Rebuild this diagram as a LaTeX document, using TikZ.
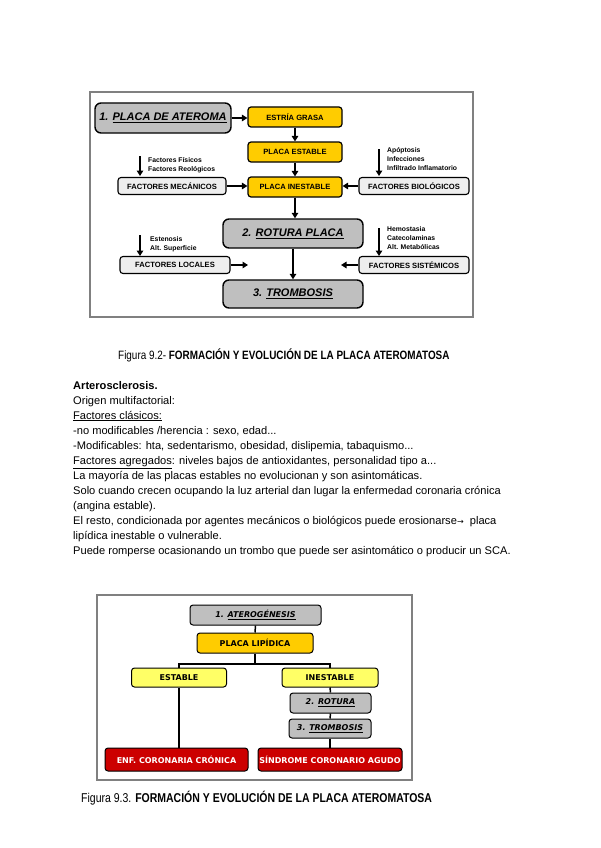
\documentclass[tikz,border=0pt]{standalone}
\usepackage{fontspec}
\setmainfont{Liberation Sans}
\newfontfamily\narrowfont{Liberation Sans}[FakeStretch=0.82]
\newfontfamily\verd{DejaVu Sans}
\usetikzlibrary{arrows.meta}
\definecolor{ygold}{HTML}{FFCC00}
\definecolor{ylight}{HTML}{FFFF66}
\definecolor{gbox}{HTML}{BFBFBF}
\definecolor{gfact}{HTML}{EEEEEE}
\definecolor{rbox}{HTML}{CC0000}
\definecolor{frame}{HTML}{808080}
\tikzset{
  box/.style={draw=black, line width=1pt, rounded corners=3pt, inner sep=0pt, align=center},
  ybox/.style={box, fill=ygold, line width=1.2pt, minimum width=94, minimum height=20, font=\fontsize{7.6}{8}\selectfont\bfseries},
  gbig/.style={box, fill=gbox, line width=1.4pt, rounded corners=6pt, font=\fontsize{11}{12}\selectfont\bfseries\itshape},
  fbox/.style={box, fill=gfact, line width=1.1pt, minimum width=110, minimum height=17, font=\fontsize{7.6}{8}\selectfont\bfseries},
  small/.style={anchor=north west, inner sep=0pt, align=left, font=\fontsize{6.8}{9.2}\selectfont\bfseries},
  arr/.style={-{Triangle[length=5.5pt,width=6.5pt]}, line width=1.8pt},
  bbox/.style={box, line width=1pt, rounded corners=3pt, font=\fontsize{8}{9}\verd\bfseries},
  conn/.style={line width=1.5pt},
  txt/.style={anchor=base west, inner sep=0pt, font=\fontsize{11.1}{12}\selectfont},
}
\begin{document}
\begin{tikzpicture}[x=1pt,y=-1pt]
\useasboundingbox[fill=white] (0,0) rectangle (600,848);

% ---------- Figure 9.2 ----------
\draw[frame, line width=1.3pt] (90,92) rectangle (473,317);

\node[gbig, minimum width=136, minimum height=30] (ater) at (163,118) {1. \underline{PLACA DE ATEROMA}};
\node[ybox] (estria) at (295,117) {ESTRÍA GRASA};
\node[ybox] (estab) at (295,152) {PLACA ESTABLE};
\node[ybox] (inest) at (295,187) {PLACA INESTABLE};
\node[fbox, minimum width=108] (mec) at (172,186) {FACTORES MECÁNICOS};
\node[fbox] (bio) at (414,186) {FACTORES BIOLÓGICOS};
\node[gbig, minimum width=140, minimum height=29] (rot) at (293,233.5) {2. \underline{ROTURA PLACA}};
\node[gbig, minimum width=140, minimum height=28] (tro) at (293,294) {3. \underline{TROMBOSIS}};
\node[fbox] (loc) at (175,265) {FACTORES LOCALES};
\node[fbox] (sis) at (414,265) {FACTORES SISTÉMICOS};

\node[small] (fm) at (148,157) {Factores Físicos\\Factores Reológicos};
\node[small] (fb) at (387,147) {Apóptosis\\Infecciones\\Infiltrado Inflamatorio};
\node[small] (fl) at (150,236) {Estenosis\\Alt. Superficie};
\node[small] (fs) at (387,226) {Hemostasia\\Catecolaminas\\Alt. Metabólicas};

\coordinate (m1) at (140,156); \coordinate (m2) at (140,176);
\coordinate (b1) at (379,149); \coordinate (b2) at (379,176);
\coordinate (l1) at (140,235); \coordinate (l2) at (140,256);
\coordinate (s1) at (379,228); \coordinate (s2) at (379,256);
\coordinate (lend) at (248,265);
\coordinate (send) at (341,265);

\draw[arr] (ater.east) -- (ater.east -| estria.west);
\draw[arr] (estria.south) -- (estab.north);
\draw[arr] (estab.south) -- (inest.north);
\draw[arr] (inest.south) -- (inest.south |- rot.north);
\draw[arr] (rot.south) -- (tro.north);
\draw[arr] (mec.east) -- (mec.east -| inest.west);
\draw[arr] (bio.west) -- (bio.west -| inest.east);
\draw[arr] (loc.east) -- (lend);
\draw[arr] (sis.west) -- (send);
\draw[arr] (m1) -- (m2);
\draw[arr] (b1) -- (b2);
\draw[arr] (l1) -- (l2);
\draw[arr] (s1) -- (s2);

\node[inner sep=0pt, anchor=west, font=\fontsize{12.1}{13}\narrowfont] (cap1) at (118,355) {Figura 9.2- \textbf{FORMACIÓN Y EVOLUCIÓN DE LA PLACA ATEROMATOSA}};

% ---------- Text ----------
\node[txt] (t1) at (73,389) {\textbf{Arterosclerosis.}};
\node[txt] (t2) at (73,404) {Origen multifactorial:};
\node[txt] (t3) at (73,419) {\underline{Factores clásicos:}};
\node[txt] (t4) at (73,434) {-no modificables /herencia : sexo, edad...};
\node[txt] (t5) at (73,449) {-Modificables: hta, sedentarismo, obesidad, dislipemia, tabaquismo...};
\node[txt] (t6) at (73,464) {\underline{Factores agregados}: niveles bajos de antioxidantes, personalidad tipo a...};
\node[txt] (t7) at (73,479) {La mayoría de las placas estables no evolucionan y son asintomáticas.};
\node[txt] (t8) at (73,494) {Solo cuando crecen ocupando la luz arterial dan lugar la enfermedad coronaria crónica};
\node[txt] (t9) at (73,509) {(angina estable).};
\node[txt] (t10) at (73,524) {El resto, condicionada por agentes mecánicos o biológicos puede erosionarse{\verd\fontsize{8}{9}\selectfont →}\ \ placa};
\node[txt] (t11) at (73,539) {lipídica inestable o vulnerable.};
\node[txt] (t12) at (73,554) {Puede romperse ocasionando un trombo que puede ser asintomático o producir un SCA.};

% ---------- Figure 9.3 ----------
\draw[frame, line width=1.3pt] (97,595) rectangle (412,780);

\node[bbox, fill=gbox, minimum width=131, minimum height=20, font=\fontsize{8}{9}\verd\bfseries\itshape] (ag) at (255.5,615) {1. \underline{ATEROGÉNESIS}};
\node[bbox, fill=ygold, minimum width=116, minimum height=20] (lip) at (255,643) {PLACA LIPÍDICA};
\node[bbox, fill=ylight, minimum width=95, minimum height=19] (est) at (179,677.5) {ESTABLE};
\node[bbox, fill=ylight, minimum width=96, minimum height=19] (ine) at (330,677.5) {INESTABLE};
\node[bbox, fill=gbox, minimum width=81, minimum height=20, font=\fontsize{8}{9}\verd\bfseries\itshape] (r2) at (330.5,703) {2. \underline{ROTURA}};
\node[bbox, fill=gbox, minimum width=82, minimum height=19, font=\fontsize{8}{9}\verd\bfseries\itshape] (t3b) at (330,728.5) {3. \underline{TROMBOSIS}};
\node[bbox, fill=rbox, text=white, minimum width=143, minimum height=23] (enf) at (176.5,759.5) {ENF. CORONARIA CRÓNICA};
\node[bbox, fill=rbox, text=white, minimum width=144, minimum height=23] (sca) at (330,759.5) {SÍNDROME CORONARIO AGUDO};

\coordinate (br) at (255,664);
\draw[conn] (ag.south) -- (lip.north);
\draw[conn] (lip.south) -- (br);
\draw[conn] (est.north) |- (br) -| (ine.north);
\draw[conn] (est.south) -- (est.south |- enf.north);
\draw[conn] (ine.south) -- (r2.north);
\draw[conn] (r2.south) -- (t3b.north);
\draw[conn] (t3b.south) -- (sca.north);

\node[inner sep=0pt, anchor=west, font=\fontsize{12.8}{14}\narrowfont] (cap2) at (81,798) {Figura 9.3. \textbf{FORMACIÓN Y EVOLUCIÓN DE LA PLACA ATEROMATOSA}};
\end{tikzpicture}
\end{document}
